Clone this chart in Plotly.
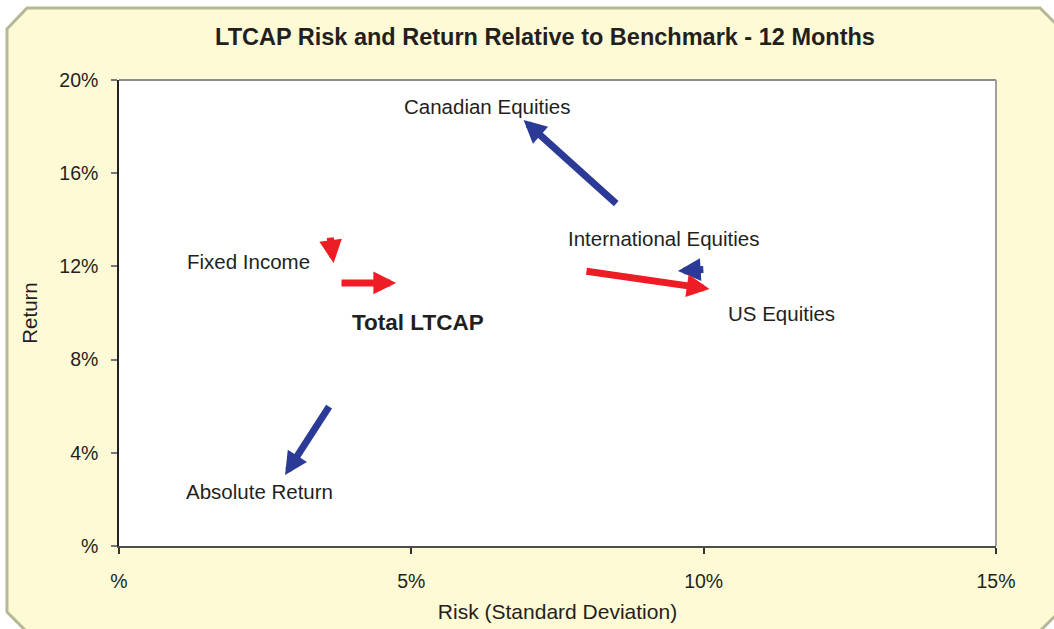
import plotly.graph_objects as go

# ---- data (percent units) ----
categories = ["Canadian Equities", "International Equities", "US Equities",
              "Fixed Income", "Total LTCAP", "Absolute Return"]
bench_risk = [8.53, 10.02, 7.97, 3.61, 3.78, 3.61]
bench_ret = [14.64, 11.87, 11.80, 13.30, 11.29, 6.05]
port_risk = [6.92, 9.56, 10.10, 3.67, 4.74, 2.84]
port_ret = [18.28, 11.80, 11.03, 12.15, 11.29, 3.05]
label_risk = [6.29, 9.32, 11.33, 2.22, 5.11, 2.41]
label_ret = [18.88, 13.18, 10.00, 12.23, 9.61, 2.36]
x_ticks = [0, 5, 10, 15]
x_ticktext = ["%", "5%", "10%", "15%"]
y_ticks = [0, 4, 8, 12, 16, 20]
y_ticktext = ["%", "4%", "8%", "12%", "16%", "20%"]

BLUE = "#2B3A96"
RED = "#EE1D25"
arrow_colors = [BLUE, BLUE, RED, RED, RED, BLUE]
bold = [False, False, False, False, True, False]

W, H = 1054, 629
L, R, T, B = 119, 58, 80, 83
PW, PH = W - L - R, H - T - B
FONT = "Liberation Sans, Arial, sans-serif"
TXT = "#231F20"


def px(x):
    return (x - L) / PW


def py(y):
    return (H - B - y) / PH


fig = go.Figure()
fig.add_trace(go.Scatter(x=[None], y=[None], mode="markers", showlegend=False, hoverinfo="skip"))

# outer yellow chamfered panel
pts = [(7, 29), (27, 8), (1040, 8), (1060, 28), (1060, 611), (1031, 640), (35, 640), (7, 612)]
path = "M " + " L ".join(f"{px(a):.5f},{py(b):.5f}" for a, b in pts) + " Z"
fig.add_shape(type="path", path=path, xref="paper", yref="paper",
              fillcolor="#FFFAD6", line=dict(color="#B5B894", width=3), layer="below")
# white plot area
fig.add_shape(type="rect", xref="paper", yref="paper", x0=0, y0=0, x1=1, y1=1,
              fillcolor="white", line=dict(width=0), layer="below")
# top/right gray borders
fig.add_shape(type="line", xref="paper", yref="paper", x0=0, x1=1, y0=1, y1=1,
              line=dict(color="#8C8C8C", width=2))
fig.add_shape(type="line", xref="paper", yref="paper", x0=1, x1=1, y0=0, y1=1,
              line=dict(color="#A0A0A0", width=2))

# arrows
for i in range(len(categories)):
    fig.add_annotation(x=port_risk[i], y=port_ret[i], ax=bench_risk[i], ay=bench_ret[i],
                       xref="x", yref="y", axref="x", ayref="y", text="",
                       showarrow=True, arrowhead=2, arrowsize=0.65, arrowwidth=7,
                       arrowcolor=arrow_colors[i], standoff=0, startstandoff=0)
# labels
for i, c in enumerate(categories):
    t = f"<b>{c}</b>" if bold[i] else c
    fig.add_annotation(x=label_risk[i], y=label_ret[i], xref="x", yref="y", text=t,
                       showarrow=False,
                       font=dict(family=FONT, size=22.5 if bold[i] else 20.5, color=TXT),
                       xanchor="center", yanchor="middle")

fig.update_layout(
    width=W, height=H,
    margin=dict(l=L, r=R, t=T, b=B, autoexpand=False),
    paper_bgcolor="white", plot_bgcolor="rgba(0,0,0,0)",
    font=dict(family=FONT, size=19.5, color=TXT),
    showlegend=False,
    title=dict(text="<b>LTCAP Risk and Return Relative to Benchmark - 12 Months</b>",
               x=545 / W, xanchor="center", xref="container",
               y=1 - 37 / H, yanchor="middle", yref="container",
               font=dict(family=FONT, size=23.5, color=TXT)),
    xaxis=dict(range=[0, 15], tickvals=x_ticks, ticktext=x_ticktext, showgrid=False,
               zeroline=False, showline=True, linecolor="#4D4D4D", linewidth=2,
               ticks="outside", ticklen=6, tickcolor="#333", tickwidth=1.5,
               ticklabelstandoff=11, automargin=False,
               title=dict(text="Risk (Standard Deviation)", standoff=13,
                          font=dict(family=FONT, size=21, color=TXT)),
               tickfont=dict(family=FONT, size=19.5, color=TXT), fixedrange=True),
    yaxis=dict(range=[0, 20], tickvals=y_ticks, ticktext=y_ticktext, showgrid=False,
               zeroline=False, showline=True, linecolor="#222", linewidth=1.5,
               ticks="outside", ticklen=6, tickcolor="#777", tickwidth=1.5,
               ticklabelstandoff=9, automargin=False,
               title=dict(text="Return", standoff=16,
                          font=dict(family=FONT, size=20.5, color=TXT)),
               tickfont=dict(family=FONT, size=19.5, color=TXT), fixedrange=True),
)

fig.write_html("out.html", config={"displayModeBar": False},
               post_script="document.body.style.margin='0';document.body.style.overflow='hidden';")
